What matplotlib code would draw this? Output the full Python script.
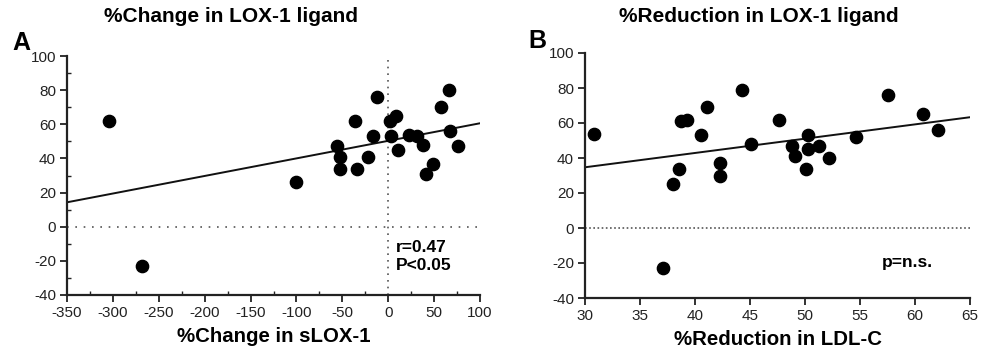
import matplotlib
matplotlib.use("Agg")
import matplotlib.pyplot as plt
import numpy as np
from matplotlib.ticker import MultipleLocator

plt.rcParams['font.family'] = ['Liberation Sans', 'DejaVu Sans']
plt.rcParams['axes.unicode_minus'] = False

# Panel A data: %Change in sLOX-1 vs %Change in LOX-1 ligand
a_x = [-304, -268, -100, -56, -53, -53, -36, -34, -22, -17, -12, 2, 8, 3, 11, 23, 31, 38, 41, 49, 57, 66, 67, 76]
a_y = [62, -23, 26, 47, 41, 34, 62, 34, 41, 53, 76, 62, 65, 53, 45, 54, 53, 48, 31, 37, 70, 80, 56, 47]
a_fit_x = [-350, 100]
a_fit_y = [14.3, 60.6]

# Panel B data: %Reduction in LDL-C vs %Reduction in LOX-1 ligand
b_x = [30.8, 37.1, 38.0, 38.5, 38.7, 39.3, 40.5, 41.1, 42.3, 42.3, 44.3, 45.1, 47.6, 48.8, 49.1, 50.1, 50.3, 50.3, 51.3, 52.2, 54.6, 57.5, 60.7, 62.1]
b_y = [54, -23, 25, 34, 61, 62, 53, 69, 37, 30, 79, 48, 62, 47, 41, 34, 53, 45, 47, 40, 52, 76, 65, 56]
b_fit_x = [30, 65]
b_fit_y = [34.7, 63.3]

a_xticks = [-350, -300, -250, -200, -150, -100, -50, 0, 50, 100]
b_xticks = [30, 35, 40, 45, 50, 55, 60, 65]
yticks = [-40, -20, 0, 20, 40, 60, 80, 100]

W, H = 990, 358
fig = plt.figure(figsize=(W / 100, H / 100), dpi=100)

def px_axes(l, r, t, b):
    return fig.add_axes([l / W, 1 - b / H, (r - l) / W, (b - t) / H])

axA = px_axes(67, 480, 56, 295)
axB = px_axes(585, 970, 53, 298)

tick_fs = 11
lab_fs = 14.7
title_fs = 15

def style(ax):
    for s in ['top', 'right']:
        ax.spines[s].set_visible(False)
    for s in ['left', 'bottom']:
        ax.spines[s].set_linewidth(1.6)
        ax.spines[s].set_color('#222222')
    ax.tick_params(which='major', direction='out', length=5, width=1.3, labelsize=tick_fs, colors='#222222', pad=3)
    ax.set_yticks(yticks)
    ax.set_ylim(-40, 100)

# Panel A
style(axA)
axA.set_xlim(-350, 100)
axA.set_xticks(a_xticks)
axA.xaxis.set_minor_locator(MultipleLocator(25))
axA.yaxis.set_minor_locator(MultipleLocator(10))
axA.tick_params(which='minor', direction='in', length=3, width=1.0, colors='#222222')
axA.axhline(0, color='#555555', lw=1.2, ls=(0, (1, 4)))
axA.axvline(0, color='#555555', lw=1.2, ls=(0, (1, 3)))
axA.plot(a_fit_x, a_fit_y, color='#111111', lw=1.4)
axA.scatter(a_x, a_y, s=78, color='black', zorder=3, clip_on=False)
axA.text(8, -8, 'r=0.47\nP<0.05', fontsize=12.5, fontweight='bold', va='top', ha='left', linespacing=1.25)
axA.set_xlabel('%Change in sLOX-1', fontsize=lab_fs, fontweight='bold', labelpad=5)
fig.text(231 / W, 1 - 17 / H, '%Change in LOX-1 ligand', fontsize=title_fs, fontweight='bold', ha='center', va='center')
fig.text(12 / W, 1 - 43 / H, 'A', fontsize=18, fontweight='bold', ha='left', va='center')

# Panel B
style(axB)
axB.set_xlim(30, 65)
axB.set_xticks(b_xticks)
axB.axhline(0, color='#555555', lw=1.2, ls=(0, (1, 1.5)))
axB.plot(b_fit_x, b_fit_y, color='#111111', lw=1.4)
axB.scatter(b_x, b_y, s=78, color='black', zorder=3, clip_on=False)
axB.text(57, -20, 'p=n.s.', fontsize=12.5, fontweight='bold', va='center', ha='left')
axB.set_xlabel('%Reduction in LDL-C', fontsize=lab_fs, fontweight='bold', labelpad=5)
fig.text(759 / W, 1 - 17 / H, '%Reduction in LOX-1 ligand', fontsize=title_fs, fontweight='bold', ha='center', va='center')
fig.text(528 / W, 1 - 41 / H, 'B', fontsize=18, fontweight='bold', ha='left', va='center')

fig.savefig('out.png', dpi=100, facecolor='white')
